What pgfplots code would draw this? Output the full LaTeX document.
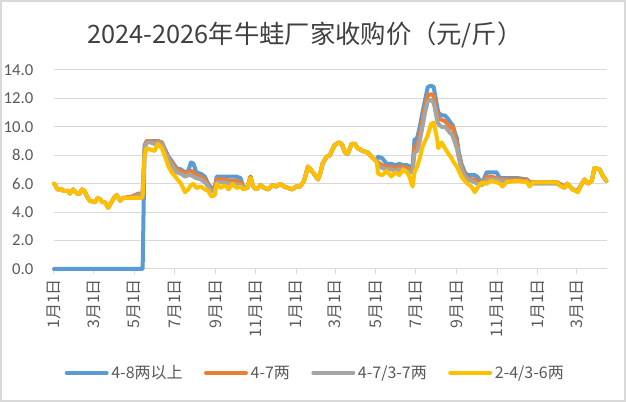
\documentclass[border=0pt]{standalone}
\usepackage{fontspec}
\setmainfont{Carlito}
\newfontfamily\cjk{Noto Sans CJK SC}
\usepackage{pgfplots}
\usepackage{pgfplotstable}
\pgfplotsset{compat=1.18}
\definecolor{cblue}{HTML}{5B9BD5}
\definecolor{corange}{HTML}{ED7D31}
\definecolor{cgray}{HTML}{A5A5A5}
\definecolor{cyellow}{HTML}{FFC000}
\definecolor{txt}{HTML}{595959}
\definecolor{ttl}{HTML}{404040}
\definecolor{gridc}{HTML}{D9D9D9}

\pgfplotstableread{
day B O G Y
0 0 6.0 6.0 6.0
2 0 5.9 5.9 5.9
5 0 5.6 5.6 5.6
12 0 5.6 5.6 5.6
14 0 5.5 5.5 5.5
21 0 5.5 5.5 5.5
24 0 5.3 5.3 5.3
29 0 5.6 5.6 5.6
35 0 5.3 5.3 5.3
39 0 5.3 5.3 5.3
42 0 5.6 5.6 5.6
46 0 5.5 5.5 5.5
50 0 5.1 5.1 5.1
54 0 4.8 4.8 4.8
62 0 4.7 4.7 4.7
66 0 5.0 5.0 5.0
70 0 4.9 4.9 4.9
73 0 4.7 4.7 4.7
77 0 4.7 4.7 4.7
82 0 4.3 4.3 4.3
88 0 4.8 4.8 4.8
92 0 5.1 5.1 5.1
95 0 5.2 5.2 5.2
100 0 4.8 4.8 4.8
104 0 5.0 5.0 5.0
118 0 5.1 5.0 5.0
127 0 5.3 5.2 5.0
133 0 5.3 5.2 5.0
134 0 5.4 5.3 5.1
137 8.7 8.5 8.4 8.0
140 9.0 9.0 8.9 8.5
146 9.0 9.0 8.9 8.4
152 9.0 8.9 8.8 8.3
157 9.0 9.0 8.9 8.8
163 8.9 8.9 8.8 8.5
168 8.4 8.3 8.2 7.9
173 7.9 7.8 7.7 7.2
178 7.6 7.5 7.3 6.8
185 7.1 7.0 6.8 6.4
192 7.0 6.9 6.7 6.0
198 6.8 6.7 6.5 5.4
203 6.9 6.8 6.6 5.6
207 7.5 6.9 6.6 5.9
211 7.4 6.8 6.5 6.0
215 6.8 6.6 6.4 5.7
222 6.7 6.5 6.3 5.8
228 6.5 6.3 6.1 5.6
233 6.0 5.9 5.8 5.5
238 5.7 5.6 5.5 5.1
243 5.7 5.6 5.5 5.2
246 6.5 6.3 6.1 6.0
252 6.5 6.3 6.1 5.7
258 6.5 6.3 6.1 5.9
264 6.5 6.2 6.0 5.6
270 6.5 6.2 6.0 6.0
276 6.5 6.2 6.0 5.7
282 6.4 6.1 5.9 5.8
286 5.8 5.8 5.8 5.6
292 5.7 5.7 5.7 5.7
297 6.5 6.5 6.4 6.4
301 5.8 5.8 5.8 5.8
306 5.6 5.6 5.6 5.6
312 5.9 5.9 5.9 5.9
318 5.7 5.7 5.7 5.7
324 5.6 5.6 5.6 5.6
330 5.9 5.9 5.9 5.9
336 5.8 5.8 5.8 5.8
342 6.0 6.0 6.0 6.0
348 5.8 5.8 5.8 5.8
354 5.7 5.7 5.7 5.7
360 5.6 5.6 5.6 5.6
366 5.8 5.8 5.8 5.8
372 5.8 5.8 5.8 5.8
378 6.2 6.2 6.2 6.2
384 7.2 7.2 7.2 7.2
388 7.0 7.0 7.0 7.0
393 6.7 6.7 6.7 6.7
399 6.3 6.3 6.3 6.3
403 6.8 6.8 6.8 6.8
406 7.4 7.4 7.4 7.4
412 7.9 7.9 7.9 7.9
417 8.0 8.0 8.0 8.0
424 8.7 8.7 8.7 8.7
430 8.9 8.9 8.9 8.9
435 8.8 8.8 8.8 8.8
440 8.2 8.2 8.2 8.2
444 8.1 8.1 8.1 8.1
450 8.8 8.8 8.8 8.8
455 8.8 8.8 8.8 8.8
459 8.5 8.5 8.5 8.5
467 8.3 8.3 8.3 8.3
474 8.2 8.2 8.2 8.2
482 7.8 7.8 7.8 7.8
488 7.6 7.6 7.6 7.5
490 7.9 7.5 7.3 6.7
496 7.8 7.3 7.1 6.6
503 7.4 7.2 7.0 6.9
510 7.4 7.2 7.0 6.5
516 7.3 7.1 6.9 6.8
522 7.4 7.2 7.0 6.6
528 7.3 7.2 7.0 7.0
534 7.3 7.1 6.9 6.8
538 7.2 7.0 6.8 6.4
542 7.2 7.0 6.8 5.8
545 9.1 8.6 8.2 6.8
549 9.2 8.7 8.3 7.2
553 10.0 9.5 9.0 7.8
557 11.0 10.5 10.0 8.6
561 11.9 11.5 11.0 9.0
565 12.8 12.2 11.8 9.4
570 12.9 12.3 11.9 10.2
574 12.8 12.2 11.7 10.3
579 11.5 11.0 10.5 9.2
581 11.0 10.6 10.2 8.5
586 10.8 10.5 10.0 8.9
591 10.8 10.4 10.0 8.5
595 10.6 10.2 9.8 8.2
598 10.4 10.0 9.6 8.0
601 10.2 9.9 9.5 7.8
603 10.1 10.0 9.3 7.6
606 9.6 9.3 8.9 7.4
609 9.2 8.8 8.5 7.2
612 8.2 8.0 7.8 6.9
616 7.4 7.2 7.0 6.5
621 6.8 6.6 6.5 6.2
625 6.6 6.4 6.3 6.0
631 6.6 6.3 6.2 5.8
636 6.6 6.3 6.1 5.4
640 6.5 6.2 6.0 5.7
647 6.0 6.0 5.9 6.1
654 6.8 6.5 6.3 6.0
660 6.8 6.5 6.3 6.2
669 6.8 6.4 6.3 6.1
674 6.4 6.3 6.2 6.0
678 6.4 6.3 6.2 5.8
684 6.4 6.3 6.2 6.1
700 6.4 6.3 6.2 6.2
715 6.3 6.3 6.2 6.1
719 6.1 6.1 6.0 5.8
724 6.1 6.1 6.0 6.1
740 6.1 6.1 6.0 6.1
760 6.1 6.1 6.0 6.1
764 6.0 6.0 5.9 5.9
772 5.8 5.8 5.7 5.7
776 6.0 6.0 6.0 6.0
784 5.6 5.6 5.6 5.6
792 5.5 5.5 5.5 5.4
798 6.0 6.0 6.0 6.0
802 6.3 6.3 6.3 6.3
807 6.0 6.0 6.0 6.0
813 6.2 6.2 6.2 6.2
817 7.1 7.1 7.1 7.1
825 7.0 7.0 7.0 7.0
829 6.6 6.6 6.6 6.6
835 6.2 6.2 6.2 6.2
}\datatable

\begin{document}
\begin{tikzpicture}
\useasboundingbox (0,0) rectangle (469.5pt,301.5pt);
\draw[gridc, line width=1.5pt] (0.75pt,0.75pt) rectangle (468.75pt,300.75pt);
\node[font=\cjk\fontsize{19}{19}\selectfont, text=ttl] at (228.75pt,275.25pt) {2024-2026年牛蛙厂家收购价（元/斤）};
\begin{axis}[
  at={(40.5pt,99.75pt)}, anchor=south west,
  scale only axis, width=414.75pt, height=149.25pt,
  xmin=0, xmax=836, ymin=0, ymax=14,
  clip=false,
  axis x line*=bottom, axis y line*=left,
  x axis line style={gridc, line width=0.75pt, -},
  y axis line style={draw=none},
  ymajorgrids, grid style={gridc, line width=0.75pt},
  ytick={0,2,...,14},
  ytick style={draw=none},
  yticklabel style={text=txt, font=\fontsize{12.5}{12.5}\selectfont, xshift=-8pt},
  /pgf/number format/.cd, fixed, fixed zerofill, precision=1, assume math mode=true,
  /pgfplots/.cd,
  xtick={0,60,121,182,244,305,366,425,486,547,609,670,731,790},
  xticklabels={1月1日,3月1日,5月1日,7月1日,9月1日,11月1日,1月1日,3月1日,5月1日,7月1日,9月1日,11月1日,1月1日,3月1日},
  xticklabel style={rotate=90, anchor=east, text=txt, font=\cjk\fontsize{12}{12}\selectfont},
  xtick style={gridc, line width=0.75pt},
  tick align=outside, major tick length=4pt,
  legend columns=4,
  legend style={draw=none, fill=none, at={(0.473,-0.5226)}, anchor=center,
    font=\cjk\fontsize{12}{12}\selectfont, text=txt,
    /tikz/every even column/.append style={column sep=14pt}},
  legend image code/.code={\draw[#1, line width=3pt, line cap=round] (0pt,0pt) -- (30pt,0pt);},
  every axis plot/.append style={line width=3pt, line join=round, line cap=round},
]
\addplot[cblue] table[x=day, y=B] {\datatable};
\addplot[corange] table[x=day, y=O] {\datatable};
\addplot[cgray] table[x=day, y=G] {\datatable};
\addplot[cyellow] table[x=day, y=Y] {\datatable};
\legend{4-8两以上, 4-7两, 4-7/3-7两, 2-4/3-6两}
\end{axis}
\end{tikzpicture}
\end{document}
